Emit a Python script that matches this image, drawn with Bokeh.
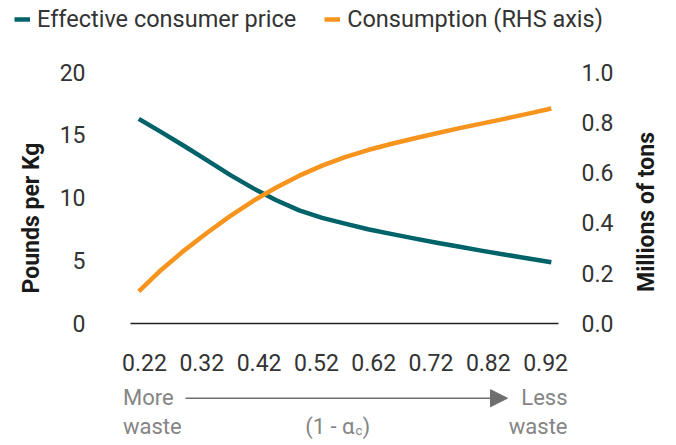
import math
from bokeh.plotting import figure
from bokeh.models import (Range1d, LinearAxis, FixedTicker, NumeralTickFormatter,
                          Legend, Label, Arrow, NormalHead)
from bokeh.embed import file_html
from bokeh.resources import INLINE

# ---- data ----
share = [0.21, 0.25, 0.29, 0.33, 0.37, 0.41, 0.45, 0.49, 0.53, 0.57,
         0.61, 0.65, 0.69, 0.73, 0.77, 0.81, 0.85, 0.89, 0.93]
price = [16.28, 15.2, 14.1, 12.95, 11.8, 10.75, 9.8, 9.0, 8.4, 7.95,
         7.5, 7.13, 6.77, 6.43, 6.1, 5.78, 5.47, 5.17, 4.87]
consumption = [0.128, 0.215, 0.292, 0.362, 0.428, 0.488, 0.541, 0.588, 0.628, 0.662,
               0.69, 0.714, 0.736, 0.757, 0.777, 0.796, 0.815, 0.835, 0.855]
x_ticks = [0.22, 0.32, 0.42, 0.52, 0.62, 0.72, 0.82, 0.92]
left_ticks = [0, 5, 10, 15, 20]
right_ticks = [0.0, 0.2, 0.4, 0.6, 0.8, 1.0]
series_names = ["Effective consumer price", "Consumption (RHS axis)"]

TEAL = "#00636A"
ORANGE = "#F7941E"
TXT = "#333333"
GREY = "#858585"
FONT = "Roboto"

W, H = 676, 445
# pixel geometry of the plotting area inside the canvas
X0_PX, XSCALE = 144.0, 573.0        # x=0.22 at 144px, 573px per unit
Y0_PX, YSCALE_L, YSCALE_R = 323.0, 12.57, 251.4
x_lo, x_hi = 0.22 - X0_PX / XSCALE, 0.22 + (W - X0_PX) / XSCALE
yl_lo, yl_hi = (Y0_PX - H) / YSCALE_L, Y0_PX / YSCALE_L
yr_lo, yr_hi = (Y0_PX - H) / YSCALE_R, Y0_PX / YSCALE_R
AX_L = 0.22 + (130 - X0_PX) / XSCALE   # left edge of the axis area
AX_R = 0.22 + (558 - X0_PX) / XSCALE   # right edge of the axis area

p = figure(width=W, height=H, output_backend="svg", toolbar_location=None,
           x_range=Range1d(x_lo, x_hi), y_range=Range1d(yl_lo, yl_hi),
           x_axis_type=None, y_axis_type=None,
           min_border_left=0, min_border_right=0, min_border_top=0, min_border_bottom=0)
p.outline_line_color = None
p.grid.visible = False
p.extra_y_ranges = {"right": Range1d(yr_lo, yr_hi)}

r1 = p.line(share, price, line_color=TEAL, line_width=4.5, line_join="round")
r2 = p.line(share, consumption, line_color=ORANGE, line_width=4.5, line_join="round",
            y_range_name="right")

def style(ax, standoff):
    ax.major_tick_line_color = None
    ax.minor_tick_line_color = None
    ax.major_label_standoff = standoff
    ax.major_label_text_font = FONT
    ax.major_label_text_font_size = "23px"
    ax.major_label_text_color = TXT
    ax.axis_label_text_font = FONT
    ax.axis_label_text_font_style = "bold"
    ax.axis_label_text_font_size = "23px"
    ax.axis_label_text_color = "#1a1a1a"

# x axis (baseline at y = 0)
xa = LinearAxis(ticker=FixedTicker(ticks=x_ticks), formatter=NumeralTickFormatter(format="0.00"),
                fixed_location=0, bounds=(AX_L, AX_R))
style(xa, 24)
xa.axis_line_color = "#222222"
xa.axis_line_width = 1.5
p.add_layout(xa, "below")

# left axis
ya = LinearAxis(ticker=FixedTicker(ticks=left_ticks), fixed_location=AX_L, bounds=(-3.2, 20))
style(ya, 39)
ya.axis_line_color = None
ya.axis_label = "Pounds per Kg"
ya.axis_label_standoff = 12
p.add_layout(ya, "left")

# right axis
ra = LinearAxis(y_range_name="right", ticker=FixedTicker(ticks=right_ticks),
                formatter=NumeralTickFormatter(format="0.0"), fixed_location=AX_R,
                bounds=(0.0, 1.0))
style(ra, 17)
ra.axis_line_color = None
p.add_layout(ra, "right")

def yl(px):
    return (Y0_PX - px) / YSCALE_L

def xl(px):
    return 0.22 + (px - X0_PX) / XSCALE

# right axis title, reading bottom-to-top
p.add_layout(Label(x=xl(646), y=yl(211.5), text="Millions of tons", angle=math.pi / 2,
                   text_align="center", text_baseline="middle", text_font=FONT,
                   text_font_style="bold", text_font_size="23px", text_color="#1a1a1a"))

# legend
legend = Legend(items=[(series_names[0], [r1]), (series_names[1], [r2])],
                orientation="horizontal", location=(14, H - 28 - 5),
                glyph_width=16, glyph_height=28, label_height=28, label_standoff=7, spacing=28,
                padding=0, margin=0, border_line_color=None,
                background_fill_alpha=0,
                label_text_font=FONT, label_text_font_size="23.5px",
                label_text_color=TXT)
p.add_layout(legend)

# bottom annotations: More waste ---> Less waste, (1 - alpha_c)
def lab(x, y, text, align="left", size="22px", color=GREY):
    p.add_layout(Label(x=x, y=y, text=text, text_align=align, text_baseline="alphabetic",
                       text_font=FONT, text_font_size=size, text_color=color))

lab(xl(122.5), yl(397), "More")
lab(xl(122.5), yl(426), "waste")
lab(xl(567), yl(397), "Less", align="right")
lab(xl(567), yl(426), "waste", align="right")
lab(xl(354), yl(426), "(1 - α", align="right")
lab(xl(355), yl(430), "c", size="13px")
lab(xl(362), yl(426), ")")

p.add_layout(Arrow(x_start=xl(185), y_start=yl(397.7), x_end=xl(507), y_end=yl(397.7),
                   line_color="#6e6e6e", line_width=1.5,
                   end=NormalHead(size=17, fill_color="#6e6e6e", line_color="#6e6e6e")))

open("out.html", "w").write(file_html(p, INLINE))
